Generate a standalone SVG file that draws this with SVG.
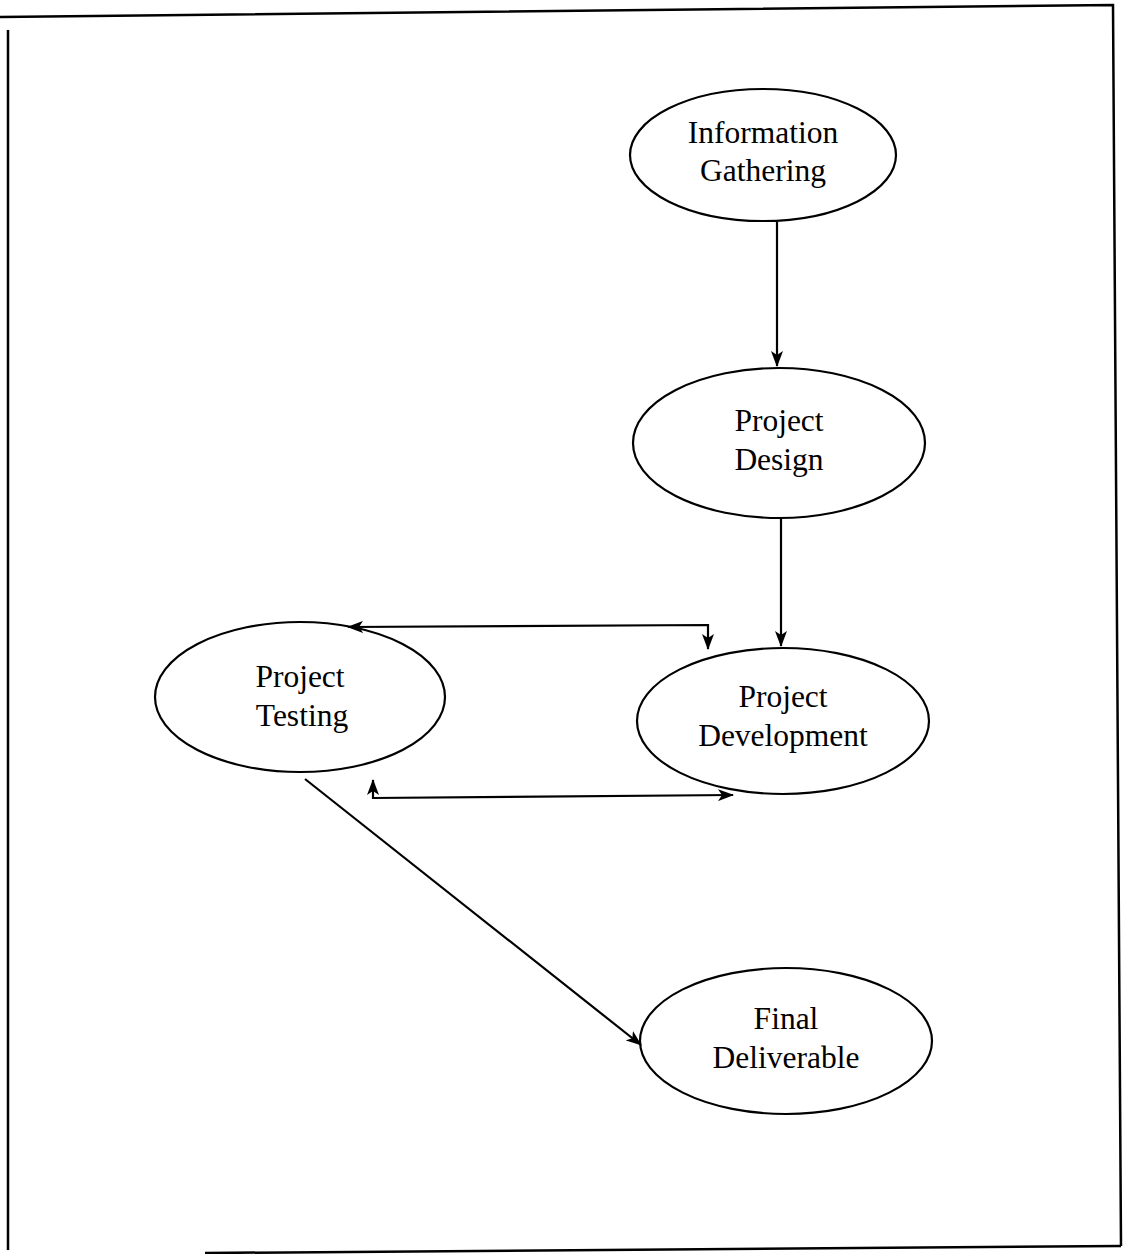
<svg xmlns="http://www.w3.org/2000/svg" width="1127" height="1254" viewBox="0 0 1127 1254">
<style>
.n ellipse{fill:none;stroke:#000;stroke-width:2.2}
.n text{font-family:"Liberation Serif","Times New Roman",serif;font-size:31.5px;text-anchor:middle;fill:#000}
.c path{fill:none;stroke:#000;stroke-width:2.2}
.f{fill:none;stroke:#000;stroke-width:2.5}
</style>
<defs>
<marker id="ah" viewBox="0 0 16 12" refX="15" refY="6" markerWidth="16" markerHeight="12" markerUnits="userSpaceOnUse" orient="auto-start-reverse">
<path d="M0,0 L16,6 L0,12 L4,6 Z" fill="#000"/>
</marker>
</defs>
<rect width="1127" height="1254" fill="#fff"/>
<g id="frame">
<path class="f" d="M0,17 L1113,5 L1121,1246"/>
<path class="f" d="M205,1253 L1121,1246"/>
<path class="f" d="M8,30 L8,1250"/>
</g>
<g id="n1" class="n"><ellipse cx="763" cy="155" rx="133" ry="66"/><text x="763" y="143">Information</text><text x="763" y="181">Gathering</text></g>
<g id="n2" class="n"><ellipse cx="779" cy="443" rx="146" ry="75"/><text x="779" y="431">Project</text><text x="779" y="470">Design</text></g>
<g id="n3" class="n"><ellipse cx="300" cy="697" rx="145" ry="75"/><text x="300" y="687">Project</text><text x="302" y="726">Testing</text></g>
<g id="n4" class="n"><ellipse cx="783" cy="721" rx="146" ry="73"/><text x="783" y="707">Project</text><text x="783" y="746">Development</text></g>
<g id="n5" class="n"><ellipse cx="786" cy="1041" rx="146" ry="73"/><text x="786" y="1029">Final</text><text x="786" y="1068">Deliverable</text></g>
<g id="connectors" class="c">
<path d="M777,222 L777,366" marker-end="url(#ah)"/>
<path d="M781,518 L781,646" marker-end="url(#ah)"/>
<path d="M348,627 L708,625 L708,649" marker-start="url(#ah)" marker-end="url(#ah)"/>
<path d="M373,780 L373,798 L733,795" marker-start="url(#ah)" marker-end="url(#ah)"/>
<path d="M305,779 L641,1045" marker-end="url(#ah)"/>
</g>
</svg>
